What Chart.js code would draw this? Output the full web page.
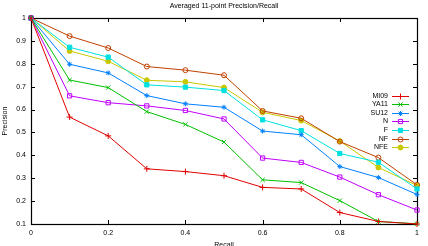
<!DOCTYPE html>
<html>
<head>
<meta charset="utf-8">
<script src="https://cdn.jsdelivr.net/npm/chart.js@4.4.1/dist/chart.umd.min.js"></script>
<style>
  html, body { margin: 0; padding: 0; background: #fff; }
  canvas { display: block; }
</style>
</head>
<body>
<canvas id="prChart" width="428" height="246"></canvas>
<script>
// recall levels (11-point)
const recall = [0, 0.1, 0.2, 0.3, 0.4, 0.5, 0.6, 0.7, 0.8, 0.9, 1];

const seriesNames = ['MI09', 'YA11', 'SU12', 'N', 'F', 'NF', 'NFE'];
const mi09 = [1, 0.567, 0.485, 0.341, 0.329, 0.311, 0.26, 0.253, 0.15, 0.111, 0.1];
const ya11 = [1, 0.729, 0.696, 0.591, 0.535, 0.458, 0.293, 0.281, 0.202, 0.111, 0.101];
const su12 = [1, 0.798, 0.76, 0.661, 0.625, 0.61, 0.506, 0.49, 0.351, 0.303, 0.229];
const nVals = [1, 0.66, 0.63, 0.616, 0.596, 0.559, 0.388, 0.369, 0.305, 0.228, 0.161];
const fVals = [1, 0.872, 0.829, 0.708, 0.698, 0.683, 0.555, 0.508, 0.408, 0.37, 0.253];
const nfVals = [1, 0.921, 0.869, 0.788, 0.772, 0.75, 0.594, 0.562, 0.46, 0.39, 0.271];
const nfeVals = [1, 0.856, 0.811, 0.728, 0.721, 0.696, 0.588, 0.552, 0.462, 0.347, 0.268];

const xTicks = [0, 0.2, 0.4, 0.6, 0.8, 1];
const yTicks = [0.1, 0.2, 0.3, 0.4, 0.5, 0.6, 0.7, 0.8, 0.9, 1];

const allValues = [mi09, ya11, su12, nVals, fVals, nfVals, nfeVals];
const colors = ['#e00000', '#00c000', '#0080ff', '#c000ff', '#00e0e0', '#c04000', '#c8c800'];
const markers = ['cross', 'crossRot', 'star', 'rect', 'rect', 'circle', 'circle'];
const filled = [false, false, false, false, true, false, true];
const radii = [3, 3, 2.5, 3, 3, 2.5, 2.5];

const FONT = '"Liberation Sans", Arial, sans-serif';

const datasets = seriesNames.map((name, i) => ({
    label: name,
    data: recall.map((r, j) => ({ x: r, y: allValues[i][j] })),
    borderColor: colors[i],
    backgroundColor: colors[i],
    borderWidth: 1,
    pointStyle: markers[i],
    pointRadius: radii[i],
    pointBorderWidth: 1,
    pointBackgroundColor: filled[i] ? colors[i] : 'rgba(0,0,0,0)',
    pointBorderColor: colors[i],
    tension: 0,
    clip: false,
}));

// gnuplot-like frame: border, inward ticks, title, axis labels and key
const gnuplotFrame = {
    id: 'gnuplotFrame',
    beforeDatasetsDraw(chart) {
        const { ctx, chartArea: a, scales } = chart;
        ctx.save();
        ctx.strokeStyle = '#000';
        ctx.lineWidth = 1;
        ctx.beginPath();
        xTicks.forEach(v => {
            const px = Math.round(scales.x.getPixelForValue(v)) + 0.5;
            ctx.moveTo(px, a.bottom); ctx.lineTo(px, a.bottom - 4);
            ctx.moveTo(px, a.top); ctx.lineTo(px, a.top + 4);
        });
        yTicks.forEach(v => {
            const py = Math.round(scales.y.getPixelForValue(v)) + 0.5;
            ctx.moveTo(a.left, py); ctx.lineTo(a.left + 4, py);
            ctx.moveTo(a.right, py); ctx.lineTo(a.right - 4, py);
        });
        ctx.stroke();
        ctx.lineWidth = 1.2;
        ctx.strokeRect(Math.round(a.left) + 0.5, Math.round(a.top) + 0.5,
            Math.round(a.right - a.left), Math.round(a.bottom - a.top));

        ctx.fillStyle = '#000';
        ctx.font = '7px ' + FONT;
        ctx.textAlign = 'center';
        ctx.textBaseline = 'middle';
        ctx.fillText('Averaged 11-point Precision/Recall', (a.left + a.right) / 2, 6);
        ctx.fillText('Recall', (a.left + a.right) / 2, 245.5);
        ctx.save();
        ctx.translate(5, (a.top + a.bottom) / 2);
        ctx.rotate(-Math.PI / 2);
        ctx.fillText('Precision', 0, 0);
        ctx.restore();
        ctx.restore();
    },
    afterDraw(chart) {
        const { ctx } = chart;
        ctx.save();
        ctx.font = '7px ' + FONT;
        ctx.textAlign = 'right';
        ctx.textBaseline = 'middle';
        chart.data.datasets.forEach((ds, i) => {
            const y = Math.round(95.5 + i * 8.6) + 0.5;
            ctx.fillStyle = '#000';
            ctx.fillText(ds.label, 388, y);
            ctx.strokeStyle = ds.borderColor;
            ctx.lineWidth = 1;
            ctx.beginPath();
            ctx.moveTo(392, y); ctx.lineTo(409, y);
            ctx.stroke();
            ctx.fillStyle = ds.pointBackgroundColor;
            Chart.helpers.drawPoint(ctx, {
                pointStyle: ds.pointStyle,
                radius: ds.pointRadius,
                rotation: 0,
                borderWidth: 1,
            }, 400.5, y);
        });
        ctx.restore();
    }
};

new Chart(document.getElementById('prChart'), {
    type: 'line',
    data: { datasets },
    options: {
        responsive: false,
        animation: false,
        layout: { padding: { top: 18, right: 11, left: 0, bottom: 0 } },
        plugins: {
            legend: { display: false },
            title: { display: false },
            tooltip: { enabled: false },
        },
        scales: {
            x: {
                type: 'linear',
                min: 0,
                max: 1,
                grid: { display: false, drawTicks: false, tickLength: 0 },
                border: { display: false },
                afterFit: s => { s.height = 22; },
                afterBuildTicks: s => { s.ticks = xTicks.map(v => ({ value: v })); },
                ticks: {
                    color: '#000',
                    padding: 5,
                    font: { size: 7, family: FONT },
                    maxRotation: 0,
                    callback: v => String(Math.round(v * 10) / 10),
                },
            },
            y: {
                min: 0.1,
                max: 1,
                grid: { display: false, drawTicks: false, tickLength: 0 },
                border: { display: false },
                afterFit: s => { s.width = 31; },
                afterBuildTicks: s => { s.ticks = yTicks.map(v => ({ value: v })); },
                ticks: {
                    color: '#000',
                    padding: 5,
                    font: { size: 7, family: FONT },
                    callback: v => String(Math.round(v * 10) / 10),
                },
            },
        },
    },
    plugins: [gnuplotFrame],
});
</script>
</body>
</html>
